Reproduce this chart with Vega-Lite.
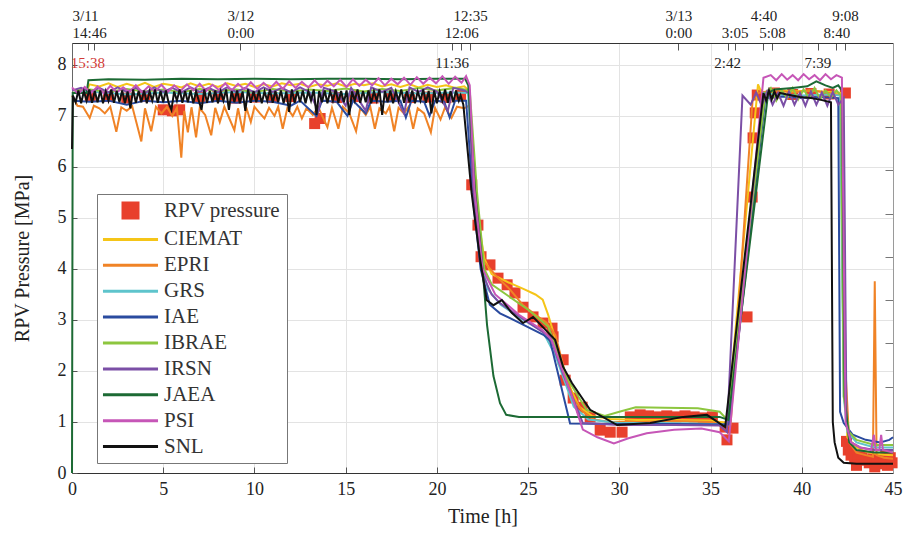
{
  "$schema": "https://vega.github.io/schema/vega-lite/v6.json",
  "width": 821,
  "height": 430,
  "autosize": "none",
  "padding": {"left": 72, "top": 43, "right": 10, "bottom": 60},
  "background": "white",
  "config": {
    "view": {"stroke": null},
    "font": "Liberation Serif",
    "axis": {
      "labelFont": "Liberation Serif",
      "titleFont": "Liberation Serif",
      "titleFontWeight": "normal",
      "labelColor": "#222",
      "titleColor": "#222",
      "gridColor": "#e3e3e3",
      "tickColor": "#555",
      "domainColor": "#333"
    }
  },
  "datasets": {
    "obs": [
      {"s":"RPV pressure","t":1.0,"p":7.4},{"s":"RPV pressure","t":2.0,"p":7.38},{"s":"RPV pressure","t":3.0,"p":7.35},{"s":"RPV pressure","t":4.0,"p":7.38},
      {"s":"RPV pressure","t":5.0,"p":7.12},{"s":"RPV pressure","t":5.5,"p":7.1},{"s":"RPV pressure","t":5.9,"p":7.12},{"s":"RPV pressure","t":7.0,"p":7.36},
      {"s":"RPV pressure","t":8.0,"p":7.38},{"s":"RPV pressure","t":9.0,"p":7.35},{"s":"RPV pressure","t":10.0,"p":7.37},{"s":"RPV pressure","t":11.0,"p":7.36},
      {"s":"RPV pressure","t":12.0,"p":7.38},{"s":"RPV pressure","t":13.3,"p":6.85},{"s":"RPV pressure","t":13.6,"p":6.95},{"s":"RPV pressure","t":14.5,"p":7.36},
      {"s":"RPV pressure","t":15.5,"p":7.38},{"s":"RPV pressure","t":16.5,"p":7.35},{"s":"RPV pressure","t":17.5,"p":7.38},{"s":"RPV pressure","t":18.5,"p":7.36},
      {"s":"RPV pressure","t":19.5,"p":7.37},{"s":"RPV pressure","t":20.5,"p":7.36},{"s":"RPV pressure","t":21.3,"p":7.4},
      {"s":"RPV pressure","t":21.91,"p":5.65},{"s":"RPV pressure","t":22.25,"p":4.86},{"s":"RPV pressure","t":22.42,"p":4.24},{"s":"RPV pressure","t":22.91,"p":4.08},
      {"s":"RPV pressure","t":23.35,"p":3.82},{"s":"RPV pressure","t":23.85,"p":3.69},{"s":"RPV pressure","t":24.28,"p":3.53},{"s":"RPV pressure","t":24.72,"p":3.25},
      {"s":"RPV pressure","t":25.27,"p":3.06},{"s":"RPV pressure","t":25.82,"p":2.94},{"s":"RPV pressure","t":26.31,"p":2.84},{"s":"RPV pressure","t":26.37,"p":2.67},
      {"s":"RPV pressure","t":26.92,"p":2.22},{"s":"RPV pressure","t":27.03,"p":1.82},{"s":"RPV pressure","t":27.47,"p":1.47},{"s":"RPV pressure","t":27.96,"p":1.29},
      {"s":"RPV pressure","t":28.4,"p":1.1},{"s":"RPV pressure","t":28.95,"p":0.84},{"s":"RPV pressure","t":29.5,"p":0.8},{"s":"RPV pressure","t":30.15,"p":0.8},
      {"s":"RPV pressure","t":30.6,"p":1.1},{"s":"RPV pressure","t":31.14,"p":1.14},{"s":"RPV pressure","t":31.6,"p":1.12},{"s":"RPV pressure","t":32.1,"p":1.1},
      {"s":"RPV pressure","t":32.6,"p":1.12},{"s":"RPV pressure","t":33.1,"p":1.1},{"s":"RPV pressure","t":33.6,"p":1.12},{"s":"RPV pressure","t":34.1,"p":1.1},
      {"s":"RPV pressure","t":34.6,"p":1.08},{"s":"RPV pressure","t":35.1,"p":1.1},{"s":"RPV pressure","t":35.8,"p":0.9},{"s":"RPV pressure","t":36.23,"p":0.88},
      {"s":"RPV pressure","t":35.9,"p":0.65},{"s":"RPV pressure","t":37.0,"p":3.06},{"s":"RPV pressure","t":37.28,"p":5.41},{"s":"RPV pressure","t":37.33,"p":6.57},
      {"s":"RPV pressure","t":37.45,"p":7.06},{"s":"RPV pressure","t":37.56,"p":7.41},{"s":"RPV pressure","t":38.5,"p":7.45},{"s":"RPV pressure","t":39.5,"p":7.42},
      {"s":"RPV pressure","t":40.5,"p":7.44},{"s":"RPV pressure","t":41.5,"p":7.43},{"s":"RPV pressure","t":42.39,"p":7.45},
      {"s":"RPV pressure","t":42.45,"p":0.62},{"s":"RPV pressure","t":42.55,"p":0.45},{"s":"RPV pressure","t":42.7,"p":0.35},{"s":"RPV pressure","t":42.9,"p":0.3},
      {"s":"RPV pressure","t":43.1,"p":0.27},{"s":"RPV pressure","t":43.3,"p":0.32},{"s":"RPV pressure","t":43.5,"p":0.25},{"s":"RPV pressure","t":43.7,"p":0.2},
      {"s":"RPV pressure","t":43.9,"p":0.28},{"s":"RPV pressure","t":44.1,"p":0.22},{"s":"RPV pressure","t":44.3,"p":0.18},{"s":"RPV pressure","t":44.5,"p":0.25},
      {"s":"RPV pressure","t":44.7,"p":0.15},{"s":"RPV pressure","t":44.85,"p":0.3},{"s":"RPV pressure","t":44.95,"p":0.2},{"s":"RPV pressure","t":43.0,"p":0.15},
      {"s":"RPV pressure","t":44.0,"p":0.12},{"s":"RPV pressure","t":44.6,"p":0.35}
    ],
    "note": [
      {"t":0.867,"label":"15:38"},
      {"t":20.833,"label":"11:36"},
      {"t":35.933,"label":"2:42"},
      {"t":40.883,"label":"7:39"}
    ],
    "sim": [
      {"s":"CIEMAT","t":0,"p":7.45},{"s":"CIEMAT","t":0.8,"p":7.47},{"s":"CIEMAT","t":0.95,"p":7.62},{"s":"CIEMAT","t":1.5,"p":7.58},{"s":"CIEMAT","t":2,"p":7.64},
      {"s":"CIEMAT","t":2.5,"p":7.57},{"s":"CIEMAT","t":3,"p":7.63},{"s":"CIEMAT","t":3.5,"p":7.58},{"s":"CIEMAT","t":4,"p":7.65},{"s":"CIEMAT","t":4.5,"p":7.57},
      {"s":"CIEMAT","t":5,"p":7.63},{"s":"CIEMAT","t":5.5,"p":7.6},{"s":"CIEMAT","t":6,"p":7.56},{"s":"CIEMAT","t":6.5,"p":7.64},{"s":"CIEMAT","t":7,"p":7.58},
      {"s":"CIEMAT","t":7.5,"p":7.63},{"s":"CIEMAT","t":8,"p":7.57},{"s":"CIEMAT","t":8.5,"p":7.64},{"s":"CIEMAT","t":9,"p":7.59},{"s":"CIEMAT","t":9.5,"p":7.63},
      {"s":"CIEMAT","t":10,"p":7.57},{"s":"CIEMAT","t":10.5,"p":7.62},{"s":"CIEMAT","t":11,"p":7.58},{"s":"CIEMAT","t":11.5,"p":7.64},{"s":"CIEMAT","t":12,"p":7.6},
      {"s":"CIEMAT","t":12.5,"p":7.63},{"s":"CIEMAT","t":13,"p":7.57},{"s":"CIEMAT","t":13.5,"p":7.62},{"s":"CIEMAT","t":14,"p":7.59},{"s":"CIEMAT","t":14.5,"p":7.64},
      {"s":"CIEMAT","t":15,"p":7.58},{"s":"CIEMAT","t":15.5,"p":7.63},{"s":"CIEMAT","t":16,"p":7.6},{"s":"CIEMAT","t":16.5,"p":7.64},{"s":"CIEMAT","t":17,"p":7.58},
      {"s":"CIEMAT","t":17.5,"p":7.62},{"s":"CIEMAT","t":18,"p":7.57},{"s":"CIEMAT","t":18.5,"p":7.62},{"s":"CIEMAT","t":19,"p":7.56},{"s":"CIEMAT","t":19.5,"p":7.61},
      {"s":"CIEMAT","t":20,"p":7.57},{"s":"CIEMAT","t":20.5,"p":7.6},{"s":"CIEMAT","t":21,"p":7.55},{"s":"CIEMAT","t":21.5,"p":7.58},{"s":"CIEMAT","t":21.75,"p":7.5},
      {"s":"CIEMAT","t":22.0,"p":6.2},{"s":"CIEMAT","t":22.3,"p":4.9},{"s":"CIEMAT","t":22.6,"p":4.2},{"s":"CIEMAT","t":23.0,"p":3.9},{"s":"CIEMAT","t":23.9,"p":3.74},
      {"s":"CIEMAT","t":24.8,"p":3.6},{"s":"CIEMAT","t":25.4,"p":3.5},{"s":"CIEMAT","t":25.8,"p":3.4},{"s":"CIEMAT","t":26.1,"p":3.1},{"s":"CIEMAT","t":26.6,"p":2.5},
      {"s":"CIEMAT","t":27.2,"p":1.75},{"s":"CIEMAT","t":27.8,"p":1.3},{"s":"CIEMAT","t":28.5,"p":1.12},{"s":"CIEMAT","t":29.5,"p":1.06},{"s":"CIEMAT","t":31,"p":1.04},
      {"s":"CIEMAT","t":33,"p":1.04},{"s":"CIEMAT","t":35,"p":1.03},{"s":"CIEMAT","t":35.9,"p":0.98},{"s":"CIEMAT","t":37.6,"p":7.62},{"s":"CIEMAT","t":37.8,"p":7.45},
      {"s":"CIEMAT","t":38.5,"p":7.52},{"s":"CIEMAT","t":39.5,"p":7.48},{"s":"CIEMAT","t":40.5,"p":7.5},{"s":"CIEMAT","t":41.5,"p":7.47},{"s":"CIEMAT","t":42.1,"p":7.45},
      {"s":"CIEMAT","t":42.3,"p":2.0},{"s":"CIEMAT","t":42.5,"p":0.7},{"s":"CIEMAT","t":43,"p":0.5},{"s":"CIEMAT","t":43.5,"p":0.42},{"s":"CIEMAT","t":44,"p":0.38},
      {"s":"CIEMAT","t":44.5,"p":0.36},{"s":"CIEMAT","t":45,"p":0.35},

      {"s":"EPRI","t":0,"p":7.4},{"s":"EPRI","t":0.3,"p":7.2},{"s":"EPRI","t":0.6,"p":7.18},{"s":"EPRI","t":0.97,"p":6.96},{"s":"EPRI","t":1.2,"p":7.2},
      {"s":"EPRI","t":1.5,"p":7.15},{"s":"EPRI","t":1.8,"p":7.05},{"s":"EPRI","t":2.1,"p":7.18},{"s":"EPRI","t":2.43,"p":6.69},{"s":"EPRI","t":2.7,"p":7.17},
      {"s":"EPRI","t":3.0,"p":7.1},{"s":"EPRI","t":3.3,"p":7.19},{"s":"EPRI","t":3.8,"p":6.5},{"s":"EPRI","t":4.0,"p":7.15},{"s":"EPRI","t":4.34,"p":6.7},
      {"s":"EPRI","t":4.6,"p":7.18},{"s":"EPRI","t":4.9,"p":7.05},{"s":"EPRI","t":5.2,"p":7.18},{"s":"EPRI","t":5.5,"p":7.0},{"s":"EPRI","t":5.75,"p":7.16},
      {"s":"EPRI","t":5.99,"p":6.18},{"s":"EPRI","t":6.15,"p":7.1},{"s":"EPRI","t":6.35,"p":6.68},{"s":"EPRI","t":6.55,"p":7.17},{"s":"EPRI","t":6.8,"p":6.58},
      {"s":"EPRI","t":7.0,"p":7.15},{"s":"EPRI","t":7.3,"p":7.02},{"s":"EPRI","t":7.63,"p":6.62},{"s":"EPRI","t":7.85,"p":7.16},{"s":"EPRI","t":8.1,"p":6.88},
      {"s":"EPRI","t":8.35,"p":7.18},{"s":"EPRI","t":8.9,"p":6.72},{"s":"EPRI","t":9.1,"p":7.15},{"s":"EPRI","t":9.37,"p":6.68},{"s":"EPRI","t":9.55,"p":7.17},
      {"s":"EPRI","t":9.8,"p":6.88},{"s":"EPRI","t":10.0,"p":7.18},{"s":"EPRI","t":10.3,"p":7.05},{"s":"EPRI","t":10.55,"p":6.95},{"s":"EPRI","t":10.8,"p":7.16},
      {"s":"EPRI","t":11.1,"p":7.0},{"s":"EPRI","t":11.3,"p":7.18},{"s":"EPRI","t":11.55,"p":6.75},{"s":"EPRI","t":11.8,"p":7.15},{"s":"EPRI","t":12.1,"p":7.0},
      {"s":"EPRI","t":12.35,"p":7.18},{"s":"EPRI","t":12.6,"p":6.95},{"s":"EPRI","t":12.85,"p":7.15},{"s":"EPRI","t":13.2,"p":7.02},{"s":"EPRI","t":13.5,"p":7.17},
      {"s":"EPRI","t":14.0,"p":6.78},{"s":"EPRI","t":14.25,"p":7.16},{"s":"EPRI","t":14.6,"p":6.75},{"s":"EPRI","t":14.85,"p":7.18},{"s":"EPRI","t":15.2,"p":7.05},
      {"s":"EPRI","t":15.57,"p":6.7},{"s":"EPRI","t":15.8,"p":7.16},{"s":"EPRI","t":16.1,"p":7.02},{"s":"EPRI","t":16.35,"p":7.18},{"s":"EPRI","t":16.6,"p":6.75},
      {"s":"EPRI","t":16.85,"p":7.15},{"s":"EPRI","t":17.2,"p":7.05},{"s":"EPRI","t":17.4,"p":7.18},{"s":"EPRI","t":17.66,"p":6.7},{"s":"EPRI","t":17.9,"p":7.16},
      {"s":"EPRI","t":18.2,"p":7.05},{"s":"EPRI","t":18.45,"p":7.18},{"s":"EPRI","t":18.7,"p":6.75},{"s":"EPRI","t":18.95,"p":7.15},{"s":"EPRI","t":19.3,"p":7.05},
      {"s":"EPRI","t":19.67,"p":6.68},{"s":"EPRI","t":19.9,"p":7.16},{"s":"EPRI","t":20.2,"p":6.93},{"s":"EPRI","t":20.45,"p":7.17},{"s":"EPRI","t":20.8,"p":6.96},
      {"s":"EPRI","t":21.1,"p":7.18},{"s":"EPRI","t":21.5,"p":7.15},{"s":"EPRI","t":21.75,"p":7.2},{"s":"EPRI","t":22.0,"p":6.0},{"s":"EPRI","t":22.25,"p":5.0},
      {"s":"EPRI","t":22.5,"p":4.18},{"s":"EPRI","t":23.28,"p":3.85},{"s":"EPRI","t":24.0,"p":3.6},{"s":"EPRI","t":24.7,"p":3.3},{"s":"EPRI","t":25.4,"p":3.1},
      {"s":"EPRI","t":26.0,"p":2.95},{"s":"EPRI","t":26.5,"p":2.7},{"s":"EPRI","t":27.0,"p":2.0},{"s":"EPRI","t":27.5,"p":1.45},{"s":"EPRI","t":28.0,"p":1.2},
      {"s":"EPRI","t":28.6,"p":1.05},{"s":"EPRI","t":29.5,"p":1.0},{"s":"EPRI","t":31.0,"p":1.0},{"s":"EPRI","t":33.0,"p":1.02},{"s":"EPRI","t":35.0,"p":1.0},
      {"s":"EPRI","t":35.9,"p":0.92},{"s":"EPRI","t":36.1,"p":0.95},{"s":"EPRI","t":37.3,"p":7.3},{"s":"EPRI","t":37.6,"p":7.45},{"s":"EPRI","t":38.5,"p":7.5},
      {"s":"EPRI","t":39.5,"p":7.46},{"s":"EPRI","t":40.5,"p":7.5},{"s":"EPRI","t":41.5,"p":7.45},{"s":"EPRI","t":42.2,"p":7.4},{"s":"EPRI","t":42.4,"p":2.0},
      {"s":"EPRI","t":42.6,"p":0.6},{"s":"EPRI","t":43.0,"p":0.4},{"s":"EPRI","t":43.5,"p":0.35},{"s":"EPRI","t":43.9,"p":0.32},{"s":"EPRI","t":44.0,"p":3.76},
      {"s":"EPRI","t":44.1,"p":0.35},{"s":"EPRI","t":44.5,"p":0.3},{"s":"EPRI","t":45,"p":0.28},

      {"s":"GRS","t":0,"p":7.45},{"s":"GRS","t":1,"p":7.48},{"s":"GRS","t":3,"p":7.42},{"s":"GRS","t":5,"p":7.46},{"s":"GRS","t":7,"p":7.43},
      {"s":"GRS","t":9,"p":7.47},{"s":"GRS","t":11,"p":7.44},{"s":"GRS","t":13,"p":7.46},{"s":"GRS","t":15,"p":7.43},{"s":"GRS","t":17,"p":7.47},
      {"s":"GRS","t":19,"p":7.44},{"s":"GRS","t":21,"p":7.46},{"s":"GRS","t":21.7,"p":7.45},{"s":"GRS","t":22.0,"p":5.8},{"s":"GRS","t":22.4,"p":4.2},
      {"s":"GRS","t":22.8,"p":3.6},{"s":"GRS","t":23.5,"p":3.3},{"s":"GRS","t":24.5,"p":3.05},{"s":"GRS","t":25.8,"p":2.78},{"s":"GRS","t":26.5,"p":2.3},
      {"s":"GRS","t":27.5,"p":1.3},{"s":"GRS","t":28.3,"p":1.05},{"s":"GRS","t":30,"p":0.98},{"s":"GRS","t":32,"p":0.98},{"s":"GRS","t":34,"p":0.97},
      {"s":"GRS","t":35.9,"p":0.95},{"s":"GRS","t":37.9,"p":7.45},{"s":"GRS","t":38.5,"p":7.42},{"s":"GRS","t":40,"p":7.4},{"s":"GRS","t":41.5,"p":7.42},
      {"s":"GRS","t":42.1,"p":7.4},{"s":"GRS","t":42.3,"p":1.5},{"s":"GRS","t":42.5,"p":0.8},{"s":"GRS","t":43,"p":0.6},{"s":"GRS","t":44,"p":0.5},{"s":"GRS","t":45,"p":0.5},

      {"s":"IAE","t":0,"p":7.3},{"s":"IAE","t":1,"p":7.28},{"s":"IAE","t":2,"p":7.3},{"s":"IAE","t":3,"p":7.22},{"s":"IAE","t":4,"p":7.3},
      {"s":"IAE","t":5,"p":7.27},{"s":"IAE","t":6,"p":7.3},{"s":"IAE","t":7,"p":7.25},{"s":"IAE","t":8,"p":7.3},{"s":"IAE","t":9,"p":7.26},
      {"s":"IAE","t":10,"p":7.3},{"s":"IAE","t":11,"p":7.28},{"s":"IAE","t":12,"p":7.2},{"s":"IAE","t":12.5,"p":7.3},{"s":"IAE","t":13.4,"p":7.0},
      {"s":"IAE","t":13.7,"p":7.3},{"s":"IAE","t":14.5,"p":7.28},{"s":"IAE","t":15.1,"p":7.0},{"s":"IAE","t":15.4,"p":7.3},{"s":"IAE","t":16.1,"p":7.05},
      {"s":"IAE","t":16.4,"p":7.3},{"s":"IAE","t":17.2,"p":7.28},{"s":"IAE","t":18.0,"p":7.3},{"s":"IAE","t":18.3,"p":6.97},{"s":"IAE","t":18.6,"p":7.3},
      {"s":"IAE","t":19.3,"p":7.28},{"s":"IAE","t":19.6,"p":7.0},{"s":"IAE","t":19.9,"p":7.3},{"s":"IAE","t":20.4,"p":7.28},{"s":"IAE","t":20.7,"p":6.97},
      {"s":"IAE","t":21.0,"p":7.3},{"s":"IAE","t":21.6,"p":7.3},{"s":"IAE","t":22.0,"p":5.3},{"s":"IAE","t":22.4,"p":4.0},{"s":"IAE","t":22.9,"p":3.3},
      {"s":"IAE","t":23.46,"p":3.13},{"s":"IAE","t":24.5,"p":2.95},{"s":"IAE","t":25.84,"p":2.71},{"s":"IAE","t":26.2,"p":2.6},{"s":"IAE","t":27.3,"p":0.97},
      {"s":"IAE","t":30,"p":0.96},{"s":"IAE","t":33,"p":0.96},{"s":"IAE","t":36.0,"p":0.95},{"s":"IAE","t":38.0,"p":7.35},{"s":"IAE","t":39,"p":7.38},
      {"s":"IAE","t":40,"p":7.35},{"s":"IAE","t":41,"p":7.37},{"s":"IAE","t":42.0,"p":7.35},{"s":"IAE","t":42.1,"p":1.2},{"s":"IAE","t":42.3,"p":0.98},
      {"s":"IAE","t":42.8,"p":0.75},{"s":"IAE","t":43.5,"p":0.65},{"s":"IAE","t":44.3,"p":0.6},{"s":"IAE","t":44.8,"p":0.65},{"s":"IAE","t":45,"p":0.7},

      {"s":"IBRAE","t":0,"p":7.5},{"s":"IBRAE","t":1,"p":7.52},{"s":"IBRAE","t":2,"p":7.47},{"s":"IBRAE","t":3,"p":7.53},{"s":"IBRAE","t":4,"p":7.48},
      {"s":"IBRAE","t":5,"p":7.52},{"s":"IBRAE","t":6,"p":7.47},{"s":"IBRAE","t":7,"p":7.53},{"s":"IBRAE","t":8,"p":7.49},{"s":"IBRAE","t":9,"p":7.52},
      {"s":"IBRAE","t":10,"p":7.47},{"s":"IBRAE","t":11,"p":7.53},{"s":"IBRAE","t":12,"p":7.48},{"s":"IBRAE","t":13,"p":7.52},{"s":"IBRAE","t":14,"p":7.49},
      {"s":"IBRAE","t":15,"p":7.54},{"s":"IBRAE","t":16,"p":7.48},{"s":"IBRAE","t":17,"p":7.53},{"s":"IBRAE","t":18,"p":7.49},{"s":"IBRAE","t":19,"p":7.55},
      {"s":"IBRAE","t":20,"p":7.5},{"s":"IBRAE","t":21,"p":7.55},{"s":"IBRAE","t":21.8,"p":7.5},{"s":"IBRAE","t":22.2,"p":5.5},{"s":"IBRAE","t":22.6,"p":4.0},
      {"s":"IBRAE","t":23.0,"p":3.7},{"s":"IBRAE","t":23.8,"p":3.5},{"s":"IBRAE","t":25.0,"p":3.2},{"s":"IBRAE","t":26.1,"p":2.87},{"s":"IBRAE","t":27.2,"p":1.82},
      {"s":"IBRAE","t":28.2,"p":1.24},{"s":"IBRAE","t":29.2,"p":1.12},{"s":"IBRAE","t":30.0,"p":1.2},{"s":"IBRAE","t":30.9,"p":1.29},{"s":"IBRAE","t":32.5,"p":1.28},
      {"s":"IBRAE","t":34.3,"p":1.27},{"s":"IBRAE","t":35.5,"p":1.2},{"s":"IBRAE","t":35.9,"p":1.05},{"s":"IBRAE","t":38.0,"p":7.45},{"s":"IBRAE","t":38.3,"p":7.55},
      {"s":"IBRAE","t":38.6,"p":7.3},{"s":"IBRAE","t":38.9,"p":7.5},{"s":"IBRAE","t":39.2,"p":7.35},{"s":"IBRAE","t":39.5,"p":7.55},{"s":"IBRAE","t":39.8,"p":7.32},
      {"s":"IBRAE","t":40.1,"p":7.52},{"s":"IBRAE","t":40.4,"p":7.35},{"s":"IBRAE","t":40.7,"p":7.55},{"s":"IBRAE","t":41.0,"p":7.33},{"s":"IBRAE","t":41.3,"p":7.5},
      {"s":"IBRAE","t":41.6,"p":7.36},{"s":"IBRAE","t":41.9,"p":7.5},{"s":"IBRAE","t":42.15,"p":7.4},{"s":"IBRAE","t":42.3,"p":1.5},{"s":"IBRAE","t":42.6,"p":0.8},
      {"s":"IBRAE","t":43,"p":0.65},{"s":"IBRAE","t":44,"p":0.55},{"s":"IBRAE","t":45,"p":0.55},

      {"s":"IRSN","t":0,"p":7.5},{"s":"IRSN","t":0.5,"p":7.55},{"s":"IRSN","t":1,"p":7.47},{"s":"IRSN","t":1.5,"p":7.55},{"s":"IRSN","t":2,"p":7.46},
      {"s":"IRSN","t":2.5,"p":7.56},{"s":"IRSN","t":3,"p":7.47},{"s":"IRSN","t":3.5,"p":7.55},{"s":"IRSN","t":4,"p":7.45},{"s":"IRSN","t":4.5,"p":7.56},
      {"s":"IRSN","t":5,"p":7.47},{"s":"IRSN","t":5.5,"p":7.55},{"s":"IRSN","t":6,"p":7.46},{"s":"IRSN","t":6.5,"p":7.56},{"s":"IRSN","t":7,"p":7.47},
      {"s":"IRSN","t":7.5,"p":7.55},{"s":"IRSN","t":8,"p":7.46},{"s":"IRSN","t":8.5,"p":7.56},{"s":"IRSN","t":9,"p":7.47},{"s":"IRSN","t":9.5,"p":7.55},
      {"s":"IRSN","t":10,"p":7.46},{"s":"IRSN","t":10.5,"p":7.56},{"s":"IRSN","t":11,"p":7.47},{"s":"IRSN","t":11.5,"p":7.55},{"s":"IRSN","t":12,"p":7.46},
      {"s":"IRSN","t":12.5,"p":7.56},{"s":"IRSN","t":13,"p":7.47},{"s":"IRSN","t":13.5,"p":7.1},{"s":"IRSN","t":13.8,"p":7.55},{"s":"IRSN","t":14.5,"p":7.47},
      {"s":"IRSN","t":15.0,"p":7.2},{"s":"IRSN","t":15.3,"p":7.55},{"s":"IRSN","t":16.1,"p":7.1},{"s":"IRSN","t":16.4,"p":7.56},{"s":"IRSN","t":17,"p":7.47},
      {"s":"IRSN","t":17.5,"p":7.55},{"s":"IRSN","t":18.2,"p":7.05},{"s":"IRSN","t":18.5,"p":7.56},{"s":"IRSN","t":19,"p":7.47},{"s":"IRSN","t":19.5,"p":7.56},
      {"s":"IRSN","t":20,"p":7.48},{"s":"IRSN","t":20.6,"p":7.1},{"s":"IRSN","t":20.9,"p":7.55},{"s":"IRSN","t":21.5,"p":7.5},{"s":"IRSN","t":21.75,"p":7.45},
      {"s":"IRSN","t":22.0,"p":5.5},{"s":"IRSN","t":22.5,"p":3.9},{"s":"IRSN","t":23.0,"p":3.5},{"s":"IRSN","t":23.46,"p":3.33},{"s":"IRSN","t":24.8,"p":3.0},
      {"s":"IRSN","t":26.2,"p":2.67},{"s":"IRSN","t":26.9,"p":1.96},{"s":"IRSN","t":28.0,"p":0.98},{"s":"IRSN","t":30,"p":0.94},{"s":"IRSN","t":33,"p":0.94},
      {"s":"IRSN","t":35.5,"p":0.93},{"s":"IRSN","t":35.9,"p":0.8},{"s":"IRSN","t":36.75,"p":7.4},{"s":"IRSN","t":37.2,"p":7.22},{"s":"IRSN","t":37.5,"p":7.46},
      {"s":"IRSN","t":37.8,"p":7.2},{"s":"IRSN","t":38.1,"p":7.48},{"s":"IRSN","t":38.4,"p":7.22},{"s":"IRSN","t":38.7,"p":7.45},{"s":"IRSN","t":39,"p":7.2},
      {"s":"IRSN","t":39.3,"p":7.48},{"s":"IRSN","t":39.6,"p":7.22},{"s":"IRSN","t":39.9,"p":7.45},{"s":"IRSN","t":40.2,"p":7.2},{"s":"IRSN","t":40.5,"p":7.48},
      {"s":"IRSN","t":40.8,"p":7.22},{"s":"IRSN","t":41.1,"p":7.46},{"s":"IRSN","t":41.4,"p":7.2},{"s":"IRSN","t":41.7,"p":7.47},{"s":"IRSN","t":42.0,"p":7.22},
      {"s":"IRSN","t":42.3,"p":7.35},{"s":"IRSN","t":42.45,"p":1.0},{"s":"IRSN","t":42.7,"p":0.6},{"s":"IRSN","t":43.2,"p":0.5},{"s":"IRSN","t":44,"p":0.45},
      {"s":"IRSN","t":45,"p":0.45},

      {"s":"JAEA","t":0,"p":0},{"s":"JAEA","t":0.04,"p":7.45},{"s":"JAEA","t":0.8,"p":7.45},{"s":"JAEA","t":0.9,"p":7.7},{"s":"JAEA","t":2,"p":7.72},
      {"s":"JAEA","t":4,"p":7.71},{"s":"JAEA","t":6,"p":7.73},{"s":"JAEA","t":8,"p":7.72},{"s":"JAEA","t":10,"p":7.73},{"s":"JAEA","t":12,"p":7.72},
      {"s":"JAEA","t":14,"p":7.73},{"s":"JAEA","t":16,"p":7.73},{"s":"JAEA","t":18,"p":7.72},{"s":"JAEA","t":20,"p":7.73},{"s":"JAEA","t":21.55,"p":7.73},
      {"s":"JAEA","t":21.72,"p":7.6},{"s":"JAEA","t":22.1,"p":5.5},{"s":"JAEA","t":22.46,"p":4.2},{"s":"JAEA","t":22.75,"p":2.9},{"s":"JAEA","t":23.1,"p":1.9},
      {"s":"JAEA","t":23.46,"p":1.37},{"s":"JAEA","t":23.8,"p":1.14},{"s":"JAEA","t":24.5,"p":1.1},{"s":"JAEA","t":27,"p":1.1},{"s":"JAEA","t":30,"p":1.1},
      {"s":"JAEA","t":33,"p":1.1},{"s":"JAEA","t":35.5,"p":1.1},{"s":"JAEA","t":35.97,"p":1.04},{"s":"JAEA","t":38.16,"p":7.45},{"s":"JAEA","t":38.5,"p":7.52},
      {"s":"JAEA","t":39.5,"p":7.55},{"s":"JAEA","t":40.3,"p":7.58},{"s":"JAEA","t":40.8,"p":7.68},{"s":"JAEA","t":41.3,"p":7.6},{"s":"JAEA","t":41.7,"p":7.55},
      {"s":"JAEA","t":42.0,"p":7.6},{"s":"JAEA","t":42.2,"p":7.5},{"s":"JAEA","t":42.35,"p":1.5},{"s":"JAEA","t":42.6,"p":0.6},{"s":"JAEA","t":43,"p":0.45},
      {"s":"JAEA","t":44,"p":0.4},{"s":"JAEA","t":45,"p":0.4},

      {"s":"PSI","t":0,"p":7.56},{"s":"PSI","t":0.35,"p":7.43},{"s":"PSI","t":0.7,"p":7.57},{"s":"PSI","t":1.05,"p":7.45},{"s":"PSI","t":1.4,"p":7.58},
      {"s":"PSI","t":1.75,"p":7.44},{"s":"PSI","t":2.1,"p":7.59},{"s":"PSI","t":2.45,"p":7.46},{"s":"PSI","t":2.8,"p":7.56},{"s":"PSI","t":3.15,"p":7.47},
      {"s":"PSI","t":3.5,"p":7.6},{"s":"PSI","t":3.85,"p":7.46},{"s":"PSI","t":4.2,"p":7.58},{"s":"PSI","t":4.55,"p":7.48},{"s":"PSI","t":4.9,"p":7.61},
      {"s":"PSI","t":5.25,"p":7.47},{"s":"PSI","t":5.6,"p":7.6},{"s":"PSI","t":5.95,"p":7.49},{"s":"PSI","t":6.3,"p":7.62},{"s":"PSI","t":6.65,"p":7.5},
      {"s":"PSI","t":7.0,"p":7.63},{"s":"PSI","t":7.35,"p":7.49},{"s":"PSI","t":7.7,"p":7.61},{"s":"PSI","t":8.05,"p":7.51},{"s":"PSI","t":8.4,"p":7.64},
      {"s":"PSI","t":8.75,"p":7.5},{"s":"PSI","t":9.1,"p":7.63},{"s":"PSI","t":9.45,"p":7.52},{"s":"PSI","t":9.8,"p":7.66},{"s":"PSI","t":10.15,"p":7.53},
      {"s":"PSI","t":10.5,"p":7.65},{"s":"PSI","t":10.85,"p":7.54},{"s":"PSI","t":11.2,"p":7.67},{"s":"PSI","t":11.55,"p":7.53},{"s":"PSI","t":11.9,"p":7.68},
      {"s":"PSI","t":12.25,"p":7.55},{"s":"PSI","t":12.6,"p":7.67},{"s":"PSI","t":12.95,"p":7.56},{"s":"PSI","t":13.3,"p":7.7},{"s":"PSI","t":13.65,"p":7.56},
      {"s":"PSI","t":14.0,"p":7.69},{"s":"PSI","t":14.35,"p":7.58},{"s":"PSI","t":14.7,"p":7.71},{"s":"PSI","t":15.05,"p":7.57},{"s":"PSI","t":15.4,"p":7.72},
      {"s":"PSI","t":15.75,"p":7.59},{"s":"PSI","t":16.1,"p":7.71},{"s":"PSI","t":16.45,"p":7.6},{"s":"PSI","t":16.8,"p":7.74},{"s":"PSI","t":17.15,"p":7.6},
      {"s":"PSI","t":17.5,"p":7.73},{"s":"PSI","t":17.85,"p":7.62},{"s":"PSI","t":18.2,"p":7.75},{"s":"PSI","t":18.55,"p":7.61},{"s":"PSI","t":18.9,"p":7.76},
      {"s":"PSI","t":19.25,"p":7.63},{"s":"PSI","t":19.6,"p":7.75},{"s":"PSI","t":19.95,"p":7.64},{"s":"PSI","t":20.3,"p":7.78},{"s":"PSI","t":20.65,"p":7.63},
      {"s":"PSI","t":21.0,"p":7.77},{"s":"PSI","t":21.35,"p":7.65},{"s":"PSI","t":21.6,"p":7.78},{"s":"PSI","t":21.8,"p":7.6},{"s":"PSI","t":22.05,"p":5.6},
      {"s":"PSI","t":22.5,"p":4.0},{"s":"PSI","t":23.2,"p":3.5},{"s":"PSI","t":24.5,"p":3.1},{"s":"PSI","t":25.8,"p":2.8},{"s":"PSI","t":26.3,"p":2.6},
      {"s":"PSI","t":26.9,"p":2.0},{"s":"PSI","t":27.4,"p":1.5},{"s":"PSI","t":28.0,"p":0.85},{"s":"PSI","t":28.8,"p":0.7},{"s":"PSI","t":29.7,"p":0.58},
      {"s":"PSI","t":30.5,"p":0.68},{"s":"PSI","t":31.5,"p":0.78},{"s":"PSI","t":33,"p":0.85},{"s":"PSI","t":34.5,"p":0.87},{"s":"PSI","t":35.5,"p":0.8},
      {"s":"PSI","t":36.0,"p":0.62},{"s":"PSI","t":37.9,"p":7.75},{"s":"PSI","t":38.3,"p":7.8},{"s":"PSI","t":38.6,"p":7.7},{"s":"PSI","t":38.9,"p":7.82},
      {"s":"PSI","t":39.2,"p":7.71},{"s":"PSI","t":39.5,"p":7.8},{"s":"PSI","t":39.8,"p":7.7},{"s":"PSI","t":40.1,"p":7.82},{"s":"PSI","t":40.4,"p":7.72},
      {"s":"PSI","t":40.7,"p":7.8},{"s":"PSI","t":41.0,"p":7.7},{"s":"PSI","t":41.3,"p":7.82},{"s":"PSI","t":41.6,"p":7.72},{"s":"PSI","t":41.9,"p":7.8},
      {"s":"PSI","t":42.2,"p":7.75},{"s":"PSI","t":42.4,"p":1.0},{"s":"PSI","t":42.7,"p":0.6},{"s":"PSI","t":43.2,"p":0.5},{"s":"PSI","t":43.8,"p":0.45},
      {"s":"PSI","t":43.95,"p":0.75},{"s":"PSI","t":44.05,"p":0.45},{"s":"PSI","t":44.25,"p":0.45},{"s":"PSI","t":44.35,"p":0.75},{"s":"PSI","t":44.45,"p":0.45},
      {"s":"PSI","t":45,"p":0.4},

      {"s":"SNL","t":0,"p":6.35},{"s":"SNL","t":0.05,"p":7.4},{"s":"SNL","t":0.2,"p":7.27},{"s":"SNL","t":0.35,"p":7.5},{"s":"SNL","t":0.5,"p":7.25},
      {"s":"SNL","t":0.65,"p":7.48},{"s":"SNL","t":0.8,"p":7.3},{"s":"SNL","t":0.95,"p":7.52},{"s":"SNL","t":1.1,"p":7.26},{"s":"SNL","t":1.25,"p":7.49},
      {"s":"SNL","t":1.4,"p":7.27},{"s":"SNL","t":1.55,"p":7.5},{"s":"SNL","t":1.7,"p":7.25},{"s":"SNL","t":1.85,"p":7.48},{"s":"SNL","t":2.0,"p":7.3},
      {"s":"SNL","t":2.15,"p":7.52},{"s":"SNL","t":2.3,"p":7.26},{"s":"SNL","t":2.45,"p":7.49},{"s":"SNL","t":2.6,"p":7.27},{"s":"SNL","t":2.75,"p":7.5},
      {"s":"SNL","t":2.9,"p":7.25},{"s":"SNL","t":3.05,"p":7.48},{"s":"SNL","t":3.2,"p":7.15},{"s":"SNL","t":3.35,"p":7.52},{"s":"SNL","t":3.5,"p":7.26},
      {"s":"SNL","t":3.65,"p":7.49},{"s":"SNL","t":3.8,"p":7.27},{"s":"SNL","t":3.95,"p":7.5},{"s":"SNL","t":4.1,"p":7.25},{"s":"SNL","t":4.25,"p":7.48},
      {"s":"SNL","t":4.4,"p":7.3},{"s":"SNL","t":4.55,"p":7.52},{"s":"SNL","t":4.7,"p":7.26},{"s":"SNL","t":4.85,"p":7.49},{"s":"SNL","t":5.0,"p":7.27},
      {"s":"SNL","t":5.15,"p":7.5},{"s":"SNL","t":5.3,"p":7.25},{"s":"SNL","t":5.45,"p":7.12},{"s":"SNL","t":5.6,"p":7.48},{"s":"SNL","t":5.75,"p":7.3},
      {"s":"SNL","t":5.9,"p":7.52},{"s":"SNL","t":6.05,"p":7.26},{"s":"SNL","t":6.2,"p":7.49},{"s":"SNL","t":6.35,"p":7.27},{"s":"SNL","t":6.5,"p":7.5},
      {"s":"SNL","t":6.65,"p":7.25},{"s":"SNL","t":6.8,"p":7.48},{"s":"SNL","t":6.95,"p":7.3},{"s":"SNL","t":7.1,"p":7.12},{"s":"SNL","t":7.25,"p":7.52},
      {"s":"SNL","t":7.4,"p":7.26},{"s":"SNL","t":7.55,"p":7.49},{"s":"SNL","t":7.7,"p":7.27},{"s":"SNL","t":7.85,"p":7.5},{"s":"SNL","t":8.0,"p":7.25},
      {"s":"SNL","t":8.15,"p":7.48},{"s":"SNL","t":8.3,"p":7.3},{"s":"SNL","t":8.45,"p":7.52},{"s":"SNL","t":8.6,"p":7.12},{"s":"SNL","t":8.75,"p":7.49},
      {"s":"SNL","t":8.9,"p":7.27},{"s":"SNL","t":9.05,"p":7.5},{"s":"SNL","t":9.2,"p":7.25},{"s":"SNL","t":9.35,"p":7.48},{"s":"SNL","t":9.5,"p":7.1},
      {"s":"SNL","t":9.65,"p":7.52},{"s":"SNL","t":9.8,"p":7.26},{"s":"SNL","t":9.95,"p":7.49},{"s":"SNL","t":10.1,"p":7.27},{"s":"SNL","t":10.25,"p":7.5},
      {"s":"SNL","t":10.4,"p":7.25},{"s":"SNL","t":10.55,"p":7.48},{"s":"SNL","t":10.7,"p":7.3},{"s":"SNL","t":10.85,"p":7.52},{"s":"SNL","t":11.0,"p":7.26},
      {"s":"SNL","t":11.15,"p":7.49},{"s":"SNL","t":11.3,"p":7.27},{"s":"SNL","t":11.45,"p":7.5},{"s":"SNL","t":11.6,"p":7.25},{"s":"SNL","t":11.75,"p":7.48},
      {"s":"SNL","t":11.9,"p":7.08},{"s":"SNL","t":12.05,"p":7.52},{"s":"SNL","t":12.2,"p":7.26},{"s":"SNL","t":12.35,"p":7.49},{"s":"SNL","t":12.5,"p":7.27},
      {"s":"SNL","t":12.65,"p":7.5},{"s":"SNL","t":12.8,"p":7.25},{"s":"SNL","t":12.95,"p":7.48},{"s":"SNL","t":13.1,"p":7.3},{"s":"SNL","t":13.25,"p":7.52},
      {"s":"SNL","t":13.4,"p":7.02},{"s":"SNL","t":13.55,"p":7.49},{"s":"SNL","t":13.7,"p":7.27},{"s":"SNL","t":13.85,"p":7.5},{"s":"SNL","t":14.0,"p":7.25},
      {"s":"SNL","t":14.15,"p":7.48},{"s":"SNL","t":14.3,"p":7.3},{"s":"SNL","t":14.45,"p":7.52},{"s":"SNL","t":14.6,"p":7.26},{"s":"SNL","t":14.75,"p":7.49},
      {"s":"SNL","t":14.9,"p":7.27},{"s":"SNL","t":15.05,"p":7.5},{"s":"SNL","t":15.2,"p":7.02},{"s":"SNL","t":15.35,"p":7.48},{"s":"SNL","t":15.5,"p":7.3},
      {"s":"SNL","t":15.65,"p":7.52},{"s":"SNL","t":15.8,"p":7.26},{"s":"SNL","t":15.95,"p":7.49},{"s":"SNL","t":16.1,"p":7.27},{"s":"SNL","t":16.25,"p":7.5},
      {"s":"SNL","t":16.4,"p":7.25},{"s":"SNL","t":16.55,"p":7.48},{"s":"SNL","t":16.7,"p":7.3},{"s":"SNL","t":16.85,"p":7.52},{"s":"SNL","t":17.0,"p":7.02},
      {"s":"SNL","t":17.15,"p":7.49},{"s":"SNL","t":17.3,"p":7.27},{"s":"SNL","t":17.45,"p":7.5},{"s":"SNL","t":17.6,"p":7.25},{"s":"SNL","t":17.75,"p":7.48},
      {"s":"SNL","t":17.9,"p":7.3},{"s":"SNL","t":18.05,"p":7.52},{"s":"SNL","t":18.2,"p":7.26},{"s":"SNL","t":18.35,"p":7.49},{"s":"SNL","t":18.5,"p":7.27},
      {"s":"SNL","t":18.65,"p":7.5},{"s":"SNL","t":18.8,"p":7.25},{"s":"SNL","t":18.95,"p":7.48},{"s":"SNL","t":19.1,"p":7.3},{"s":"SNL","t":19.25,"p":7.52},
      {"s":"SNL","t":19.4,"p":7.26},{"s":"SNL","t":19.55,"p":7.49},{"s":"SNL","t":19.7,"p":7.05},{"s":"SNL","t":19.85,"p":7.5},{"s":"SNL","t":20.0,"p":7.25},
      {"s":"SNL","t":20.15,"p":7.48},{"s":"SNL","t":20.3,"p":7.3},{"s":"SNL","t":20.45,"p":7.52},{"s":"SNL","t":20.6,"p":7.26},{"s":"SNL","t":20.75,"p":7.49},
      {"s":"SNL","t":20.9,"p":7.27},{"s":"SNL","t":21.05,"p":7.5},{"s":"SNL","t":21.2,"p":7.3},{"s":"SNL","t":21.3,"p":7.4},{"s":"SNL","t":21.45,"p":7.22},
      {"s":"SNL","t":21.9,"p":5.5},{"s":"SNL","t":22.37,"p":4.18},{"s":"SNL","t":22.73,"p":3.39},{"s":"SNL","t":23.1,"p":3.29},
      {"s":"SNL","t":23.56,"p":3.39},{"s":"SNL","t":24.1,"p":3.14},{"s":"SNL","t":24.72,"p":2.94},{"s":"SNL","t":25.27,"p":3.06},{"s":"SNL","t":26.48,"p":2.61},
      {"s":"SNL","t":26.92,"p":2.08},{"s":"SNL","t":27.41,"p":1.76},{"s":"SNL","t":28.4,"p":1.24},{"s":"SNL","t":29.88,"p":0.94},{"s":"SNL","t":31.69,"p":0.98},
      {"s":"SNL","t":33.5,"p":1.1},{"s":"SNL","t":34.8,"p":1.14},{"s":"SNL","t":35.8,"p":0.9},{"s":"SNL","t":37.9,"p":7.45},{"s":"SNL","t":38.05,"p":7.3},
      {"s":"SNL","t":38.2,"p":7.5},{"s":"SNL","t":38.35,"p":7.32},{"s":"SNL","t":38.5,"p":7.48},{"s":"SNL","t":38.65,"p":7.35},{"s":"SNL","t":38.8,"p":7.45},
      {"s":"SNL","t":39.2,"p":7.42},{"s":"SNL","t":39.9,"p":7.37},{"s":"SNL","t":40.5,"p":7.35},{"s":"SNL","t":41.0,"p":7.32},{"s":"SNL","t":41.6,"p":7.27},
      {"s":"SNL","t":41.7,"p":1.0},{"s":"SNL","t":41.8,"p":0.6},{"s":"SNL","t":42.0,"p":0.3},{"s":"SNL","t":42.3,"p":0.2},{"s":"SNL","t":43,"p":0.18},
      {"s":"SNL","t":44,"p":0.18},{"s":"SNL","t":45,"p":0.18}
    ]
  },
  "layer": [
    {
      "data": {"name": "obs"},
      "mark": {"type": "square", "size": 121, "opacity": 1, "filled": true, "color": "#e8402c"},
      "encoding": {
        "x": {
          "field": "t", "type": "quantitative",
          "scale": {"domain": [0, 45], "nice": false, "zero": false},
          "axis": {
            "orient": "bottom", "title": "Time [h]", "values": [0,5,10,15,20,25,30,35,40,45],
            "grid": true, "tickSize": -6, "labelPadding": 13, "labelFontSize": 18,
            "titleFontSize": 20, "titlePadding": 8, "labelFlush": false
          }
        },
        "y": {
          "field": "p", "type": "quantitative",
          "scale": {"domain": [0, 8.43], "nice": false, "zero": false},
          "axis": {
            "orient": "left", "title": "RPV Pressure [MPa]", "values": [0,1,2,3,4,5,6,7,8],
            "grid": true, "tickSize": -5, "labelPadding": 11, "labelFontSize": 18,
            "titleFontSize": 20, "titlePadding": 25, "domainColor": "#666"
          }
        }
      }
    },
    {
      "data": {"name": "sim"},
      "mark": {"type": "line", "strokeWidth": 2, "interpolate": "linear"},
      "encoding": {
        "x": {"field": "t", "type": "quantitative", "scale": {"domain": [0, 45], "nice": false, "zero": false}, "axis": null},
        "y": {"field": "p", "type": "quantitative", "scale": {"domain": [0, 8.43], "nice": false, "zero": false}, "axis": null},
        "color": {
          "field": "s", "type": "nominal",
          "scale": {
            "domain": ["RPV pressure","CIEMAT","EPRI","GRS","IAE","IBRAE","IRSN","JAEA","PSI","SNL"],
            "range": ["#e8402c","#f5c518","#f08326","#5ec4cc","#2a4b9f","#8dc63f","#7b4fa6","#1c6a34","#c656b7","#111111"]
          },
          "legend": {
            "title": null,
            "orient": "none",
            "legendX": 25,
            "legendY": 151,
            "direction": "vertical",
            "padding": 6,
            "rowPadding": 3.9,
            "symbolType": "stroke",
            "symbolSize": 225,
            "symbolStrokeWidth": 3,
            "symbolOffset": 17,
            "labelOffset": 23,
            "labelFont": "Liberation Serif",
            "labelFontSize": 21,
            "labelColor": "#333",
            "labelLimit": 0,
            "strokeColor": "#777",
            "fillColor": "white",
            "encode": {
              "symbols": {
                "update": {
                  "shape": {"signal": "datum.value === 'RPV pressure' ? 'square' : 'M-3.67,0H3.67'"},
                  "fill": {"signal": "datum.value === 'RPV pressure' ? scale('color', datum.value) : 'transparent'"},
                  "stroke": {"signal": "scale('color', datum.value)"},
                  "opacity": {"value": 1}
                }
              }
            }
          }
        }
      }
    },
    {
      "data": {"name": "note"},
      "mark": {"type": "text", "font": "Liberation Serif", "fontSize": 15, "align": "center", "baseline": "middle"},
      "encoding": {
        "x": {
          "field": "t", "type": "quantitative",
          "scale": {"domain": [0, 45], "nice": false, "zero": false},
          "axis": {
            "orient": "top", "title": null, "grid": false,
            "values": [0, 0.867, 1.233, 9.233, 20.833, 21.333, 21.817, 33.233, 35.933, 36.317, 37.9, 38.367, 40.883, 41.9, 42.367],
            "labelExpr": "datum.value == 0 ? ['3/11','14:46'] : datum.value == 9.233 ? ['3/12','0:00'] : datum.value == 21.333 ? [' ','12:06'] : datum.value == 21.817 ? ['12:35',' '] : datum.value == 33.233 ? ['3/13','0:00'] : datum.value == 36.317 ? [' ','3:05'] : datum.value == 37.9 ? ['4:40',' '] : datum.value == 38.367 ? [' ','5:08'] : datum.value == 41.9 ? [' ','8:40'] : datum.value == 42.367 ? ['9:08',' '] : ''",
            "labelFontSize": 15, "labelLineHeight": 17, "labelOverlap": false, "labelBound": false,
            "labelFlush": true, "tickSize": -7, "labelPadding": 27, "domainColor": "#333"
          }
        },
        "y": {"datum": 8.04, "type": "quantitative", "scale": {"domain": [0, 8.43], "nice": false, "zero": false}, "axis": null},
        "text": {"field": "label", "type": "nominal"},
        "color": {"condition": {"test": "datum.label === '15:38'", "value": "#d23a36"}, "value": "#222222"}
      }
    },
    {
      "data": {"name": "note"},
      "mark": {"type": "point", "opacity": 0},
      "encoding": {
        "y": {
          "datum": 0, "type": "quantitative",
          "scale": {"domain": [0, 9.95], "nice": false, "zero": false},
          "axis": {
            "orient": "right", "title": null, "labels": false, "grid": false,
            "values": [1,2,3,4,5,6,7,8,9], "tickSize": -8, "domainColor": "#9a9a9a", "tickColor": "#777"
          }
        }
      }
    }
  ],
  "resolve": {
    "scale": {"y": "independent"},
    "axis": {"x": "independent", "y": "independent"}
  }
}
